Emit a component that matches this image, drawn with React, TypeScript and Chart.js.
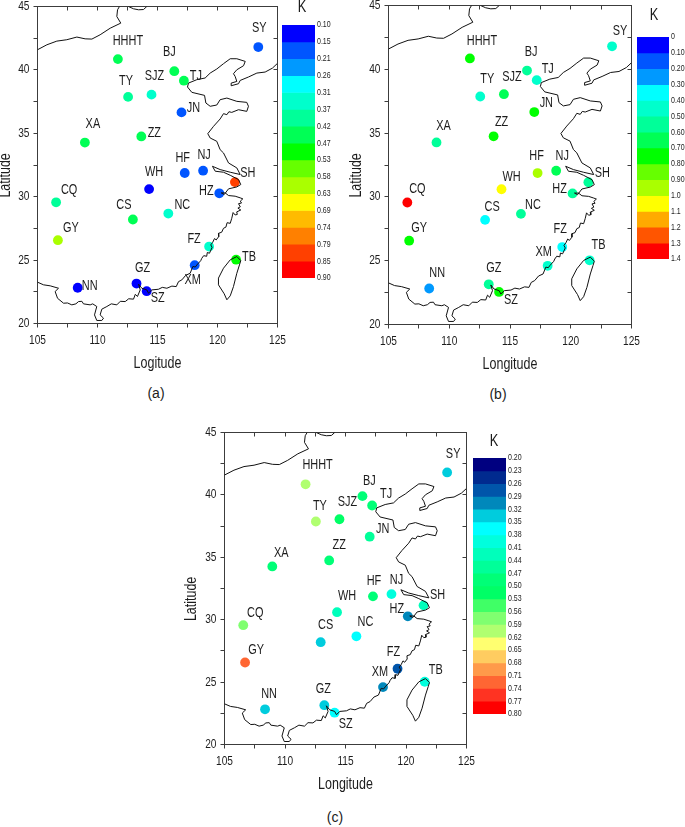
import React, { useEffect, useRef } from "react";
import { Chart, registerables } from "chart.js";

Chart.register(...registerables);

const FONT = '"Liberation Sans", Arial, sans-serif';
const INK = "#1c1c1c";
const AXIS = "#3c3c3c";
const SQUEEZE = 0.78;

const cityNames = ["SY","HHHT","BJ","TJ","SJZ","TY","JN","ZZ","XA","HF","NJ","WH","SH","HZ","CQ","CS","NC","GY","FZ","TB","XM","GZ","SZ","NN"];
const cityLon = [123.4,111.7,116.4,117.2,114.5,112.55,117,113.65,108.95,117.27,118.8,114.3,121.45,120.15,106.55,112.95,115.9,106.7,119.3,121.55,118.1,113.25,114.1,108.35];
const cityLat = [41.8,40.85,39.9,39.15,38.05,37.87,36.65,34.75,34.27,31.87,32.05,30.6,31.15,30.27,29.56,28.2,28.67,26.57,26.07,25.03,24.6,23.15,22.55,22.82];

const kA = [0.17,0.45,0.45,0.45,0.33,0.38,0.17,0.45,0.45,0.17,0.17,0.12,0.8,0.17,0.38,0.45,0.33,0.6,0.33,0.5,0.17,0.12,0.12,0.12];
const kB = [0.45,0.75,0.55,0.45,0.65,0.45,0.75,0.75,0.55,0.95,0.65,1.05,0.55,0.55,1.35,0.35,0.55,0.75,0.35,0.45,0.45,0.55,0.75,0.25];
const kC = [0.33,0.6,0.48,0.48,0.51,0.6,0.45,0.48,0.48,0.48,0.39,0.42,0.42,0.31,0.57,0.33,0.36,0.72,0.27,0.39,0.3,0.33,0.36,0.33];

const levelsA = [0.10,0.15,0.21,0.26,0.31,0.37,0.42,0.47,0.53,0.58,0.63,0.69,0.74,0.79,0.85,0.90];
const labelsA = levelsA.map((v) => v.toFixed(2));
const bandsA = ["#0000ff","#0055ff","#0099ff","#00ffff","#00ffcc","#00ff99","#00ff55","#00ff00","#66ff00","#aaff00","#ffff00","#ffbb00","#ff8000","#ff4000","#ff0000"];

const levelsB = [0,0.1,0.2,0.3,0.4,0.5,0.6,0.7,0.8,0.9,1.0,1.1,1.2,1.3,1.4];
const labelsB = ["0","0.10","0.20","0.30","0.40","0.50","0.60","0.70","0.80","0.90","1.0","1.1","1.2","1.3","1.4"];
const bandsB = ["#0000ff","#0055ff","#0099ff","#00ffff","#00ffcc","#00ff99","#00ff55","#00ff00","#66ff00","#aaff00","#ffff00","#ffaa00","#ff5500","#ff0000"];

const levelsC = [0.20,0.23,0.26,0.29,0.32,0.35,0.38,0.41,0.44,0.47,0.50,0.53,0.56,0.59,0.62,0.65,0.68,0.71,0.74,0.77,0.80];
const labelsC = levelsC.map((v) => v.toFixed(2));
const bandsC = ["#000080","#002a8f","#0055aa","#0088bb","#00ccdd","#00ffff","#00ffdd","#00ffbb","#00ff99","#00ff77","#00ff66","#40ff66","#80ff70","#b0ff70","#ffff70","#ffcc60","#ff9a4a","#ff6633","#ff3322","#ff0000"];

const northBorder = [[105,41.59],[105.78,41.98],[106.61,42.27],[107.44,42.38],[108.28,42.59],[108.97,42.45],[109.53,42.43],[110.22,42.77],[111.06,43.29],[111.94,43.69],[111.61,44.21],[111.67,44.74],[111.83,45]];
const northBorderTop = [[112.58,45],[113,44.82],[113.42,44.74],[113.83,44.76],[114.11,45]];
const mainlandCoast = [[124.97,40.49],[124.58,40.14],[123.97,39.83],[123.28,39.75],[122.58,39.44],[121.89,39.17],[121.75,38.91],[121.14,38.75],[121.14,38.96],[121.61,39.09],[121.47,39.49],[121.33,39.7],[121.61,40.01],[122.17,40.33],[122.31,40.67],[121.61,40.88],[121.06,40.88],[120.5,40.49],[119.94,40.07],[119.39,39.75],[118.97,39.36],[118.28,39.23],[117.58,38.96],[117.5,38.65],[117.86,38.23],[118.92,37.99],[119.03,37.39],[119.39,37.13],[119.94,37.23],[120.22,37.65],[120.78,37.78],[121.61,37.52],[122.44,37.44],[122.58,37.13],[122.44,36.73],[121.75,36.86],[121.19,36.65],[120.95,36.7],[120.78,36.47],[120.5,36.55],[120.22,36.13],[119.67,35.55],[119.19,34.97],[119.39,34.63],[119.94,34.37],[120.22,33.71],[120.5,33.45],[120.92,32.66],[121.61,32.27],[121.89,31.75],[121.06,31.93],[120.22,32.14],[119.58,32.4],[119.81,32.01],[120.5,31.93],[121.06,31.69],[121.75,31.35],[121.94,30.96],[121.61,30.77],[120.92,30.62],[120.56,30.17],[120.31,30.3],[120.64,30.3],[120.92,30.09],[121.47,30.04],[121.89,29.91],[122.11,29.83],[121.9,29.65],[122,29.5],[121.75,29.45],[121.9,29.2],[121.7,29.1],[121.94,28.95],[121.6,28.8],[121.65,28.6],[121.47,28.56],[121.3,28.75],[121.19,28.3],[121.06,27.9],[120.8,27.95],[120.7,27.6],[120.5,27.51],[120.35,27.2],[120.08,27.11],[120.1,26.85],[119.89,26.59],[119.75,26.7],[119.6,26.4],[119.44,26.2],[119.55,26],[119.33,25.54],[119.15,25.6],[119.1,25.3],[118.85,25.35],[118.69,25.14],[118.6,24.95],[118.28,24.62],[118.15,24.45],[117.95,24.5],[117.72,23.96],[117.35,23.8],[117.03,23.44],[116.75,23.3],[116.56,22.91],[116.2,22.95],[115.78,22.78],[115.4,22.85],[115.08,22.7],[114.53,22.65],[114.25,22.39],[114.11,22.65],[113.69,22.78],[113.42,23.1],[113.56,22.65],[113.33,22.13],[113.15,22.3],[113,21.92],[112.6,21.95],[112.31,21.73],[111.9,21.75],[111.61,21.47],[111.15,21.55],[110.78,21.34],[110.36,21.13],[110.22,20.68],[110.5,20.42],[110.36,20.24],[109.94,20.24],[109.75,20.68],[109.94,21.34],[109.6,21.55],[109.39,21.47],[108.83,21.55],[108.7,21.75],[108.42,21.73],[108.2,21.55],[107.86,21.47],[107.5,21.62],[107.17,21.6],[106.67,21.99],[106.47,22.52],[106.75,22.78],[106.06,22.97],[105.5,23.05],[105,23.26]];
const taiwanCoast = [[121.61,25.28],[121.94,24.96],[121.83,24.62],[121.61,23.96],[121.33,22.91],[121.06,22.18],[120.78,21.87],[120.56,22.34],[120.08,23.05],[120.08,23.58],[120.5,24.36],[121.06,25.02],[121.61,25.28]];

const labelOffsetsA = [[1,-19],[10,-18],[-5,-19],[12,-5],[3,-18],[-2,-16],[12,-4],[13,-3],[8,-18],[-2,-15],[1,-16],[5,-17],[13,-9],[-13,-2],[13,-12],[-9,-14],[14,-8],[13,-12],[-15,-7],[13,-3],[-2,15],[6,-15],[11,7],[12,-2]];
const labelOffsetsB = [[8,-15],[12,-17],[4,-18],[11,-11],[8,-17],[7,-17],[12,-9],[8,-14],[7,-16],[-1,-17],[6,-15],[10,-12],[14,-9],[-13,-4],[10,-13],[7,-13],[12,-9],[10,-13],[-2,-18],[9,-15],[-4,-14],[5,-16],[12,8],[8,-15]];
const labelOffsetsC = [[6,-18],[12,-19],[7,-15],[14,-11],[8,-17],[4,-15],[13,-8],[10,-15],[9,-13],[1,-15],[5,-14],[10,-16],[14,-10],[-11,-7],[12,-12],[5,-17],[9,-14],[11,-12],[-4,-17],[11,-12],[-3,-15],[-1,-16],[11,11],[4,-15]];

const toPoints = (pairs: number[][]) => pairs.map(([x, y]) => ({ x, y }));

function bandColor(k: number, levels: number[], bands: string[]) {
  for (let i = 0; i < bands.length; i++) if (k < levels[i + 1]) return bands[i];
  return bands[bands.length - 1];
}

function outline(pairs: number[][]) {
  return {
    type: "scatter",
    data: toPoints(pairs),
    showLine: true,
    borderColor: "#111111",
    borderWidth: 1,
    pointRadius: 0,
    fill: false,
    tension: 0,
    order: 1,
  };
}

// The reference's lettering is horizontally condensed: every canvas text is drawn narrower.
function condense(canvas: HTMLCanvasElement) {
  const ctx: any = canvas.getContext("2d");
  if (ctx.__condensed) return;
  ctx.__condensed = true;
  const orig = ctx.fillText.bind(ctx);
  ctx.fillText = (t: string, x: number, y: number) => orig(t, x, y, Math.max(1, ctx.measureText(t).width * SQUEEZE));
}

type Panel = {
  mapLeft: number; mapTop: number; plotLeft: number; plotRight: number; plotTop: number; plotBottom: number; mapBottom: number;
  xTitle: string; k: number[]; levels: number[]; tickLabels: string[]; bands: string[]; offsets: number[][];
  barLeft: number; barRight: number; barTop: number; barBottom: number; kX: number; kY: number;
  caption: string; capX: number; capY: number;
};

const panels: Panel[] = [
  { mapLeft: -2, mapTop: 0, plotLeft: 37.5, plotRight: 277.5, plotTop: 6.5, plotBottom: 323.5, mapBottom: 372, xTitle: "Logitude", k: kA, levels: levelsA, tickLabels: labelsA, bands: bandsA, offsets: labelOffsetsA, barLeft: 282, barRight: 315, barTop: 25, barBottom: 278, kX: 302, kY: 7, caption: "(a)", capX: 156, capY: 393 },
  { mapLeft: 349, mapTop: 0, plotLeft: 388.5, plotRight: 631.5, plotTop: 5.5, plotBottom: 324.5, mapBottom: 373, xTitle: "Longitude", k: kB, levels: levelsB, tickLabels: labelsB, bands: bandsB, offsets: labelOffsetsB, barLeft: 637, barRight: 669, barTop: 37, barBottom: 259, kX: 654, kY: 15, caption: "(b)", capX: 498, capY: 394 },
  { mapLeft: 184, mapTop: 420, plotLeft: 224.5, plotRight: 466.5, plotTop: 432.5, plotBottom: 744.5, mapBottom: 793, xTitle: "Longitude", k: kC, levels: levelsC, tickLabels: labelsC, bands: bandsC, offsets: labelOffsetsC, barLeft: 473, barRight: 506, barTop: 458, barBottom: 714, kX: 494, kY: 441, caption: "(c)", capX: 335, capY: 817 },
];

function MapChart({ p }: { p: Panel }) {
  const ref = useRef<HTMLCanvasElement>(null);
  const rightW = 14.5;
  const W = p.plotRight - p.mapLeft + rightW;
  const H = p.mapBottom - p.mapTop;
  useEffect(() => {
    condense(ref.current!);
    const fixH = (size: number) => (scale: any) => { scale.height = size; scale.paddingLeft = 0; scale.paddingRight = 0; };
    const fixW = (size: number) => (scale: any) => { scale.width = size; scale.paddingTop = 0; scale.paddingBottom = 0; };
    const leftW = p.plotLeft - p.mapLeft;
    const topH = p.plotTop - p.mapTop;
    const botH = p.mapBottom - p.plotBottom;
    const majorOnly = (v: any) => (Number(v) % 5 === 0 ? String(v) : "");
    const tickFont = { family: FONT, size: 13 };
    const cityLabels = {
      id: "cityLabels",
      afterDatasetsDraw(chart: any) {
        const { ctx, scales } = chart;
        ctx.save();
        ctx.font = `14px ${FONT}`;
        ctx.fillStyle = INK;
        ctx.textAlign = "center";
        ctx.textBaseline = "middle";
        cityNames.forEach((n, i) => {
          ctx.fillText(n, scales.x.getPixelForValue(cityLon[i]) + p.offsets[i][0], scales.y.getPixelForValue(cityLat[i]) + p.offsets[i][1]);
        });
        ctx.restore();
      },
    };
    const chart = new Chart(ref.current!, {
      type: "scatter",
      data: {
        datasets: [
          {
            label: "K",
            data: cityLon.map((x, i) => ({ x, y: cityLat[i] })),
            pointRadius: 4.9,
            pointBorderWidth: 0,
            pointBackgroundColor: p.k.map((k) => bandColor(k, p.levels, p.bands)),
            order: 2,
          },
          outline(northBorder),
          outline(northBorderTop),
          outline(mainlandCoast),
          outline(taiwanCoast),
        ] as any,
      },
      options: {
        animation: false,
        responsive: false,
        devicePixelRatio: 1,
        layout: { padding: 0 },
        plugins: { legend: { display: false }, tooltip: { enabled: false } },
        scales: {
          x: {
            type: "linear", position: "bottom", min: 105, max: 125, afterFit: fixH(botH),
            grid: { drawOnChartArea: false, tickLength: 4, tickColor: AXIS },
            border: { color: AXIS, width: 1 },
            ticks: { stepSize: 2.5, autoSkip: false, maxRotation: 0, padding: 5, color: INK, font: tickFont, callback: majorOnly },
            title: { display: true, text: p.xTitle, color: INK, font: { family: FONT, size: 16, lineHeight: 1 }, padding: 0 },
          },
          y: {
            type: "linear", position: "left", min: 20, max: 45, afterFit: fixW(leftW),
            grid: { drawOnChartArea: false, tickLength: 4, tickColor: AXIS },
            border: { color: AXIS, width: 1 },
            ticks: { stepSize: 2.5, autoSkip: false, padding: 4, color: INK, font: tickFont, callback: majorOnly },
            title: { display: true, text: "Latitude      ", color: INK, font: { family: FONT, size: 16, lineHeight: 1 }, padding: 0 },
          },
          xTop: {
            type: "linear", position: "top", min: 105, max: 125, afterFit: fixH(topH),
            grid: { drawOnChartArea: false, tickLength: -4, tickColor: AXIS },
            border: { color: AXIS, width: 1 },
            ticks: { stepSize: 2.5, display: false },
          },
          yRight: {
            type: "linear", position: "right", min: 20, max: 45, afterFit: fixW(rightW),
            grid: { drawOnChartArea: false, tickLength: -4, tickColor: AXIS },
            border: { color: AXIS, width: 1 },
            ticks: { stepSize: 2.5, display: false },
          },
        },
      } as any,
      plugins: [cityLabels],
    });
    return () => chart.destroy();
  }, [p]);
  return <canvas ref={ref} width={W} height={H} style={{ position: "absolute", left: p.mapLeft, top: p.mapTop, width: W, height: H }} />;
}

function ColorBar({ p }: { p: Panel }) {
  const ref = useRef<HTMLCanvasElement>(null);
  const PAD = 6;
  const RIGHT = 18;
  const W = p.barRight - p.barLeft + RIGHT;
  const H = p.barBottom - p.barTop + 2 * PAD;
  useEffect(() => {
    condense(ref.current!);
    const chart = new Chart(ref.current!, {
      type: "bar",
      data: {
        labels: ["K"],
        datasets: p.bands.map((c, i) => ({ label: p.tickLabels[i], data: [1], backgroundColor: c, borderWidth: 0, stack: "k", barPercentage: 1, categoryPercentage: 1 })),
      },
      options: {
        animation: false,
        responsive: false,
        devicePixelRatio: 1,
        layout: { padding: { top: PAD, bottom: PAD } },
        plugins: { legend: { display: false }, tooltip: { enabled: false } },
        scales: {
          x: { stacked: true, display: false },
          y: {
            stacked: true, position: "right", min: 0, max: p.bands.length, reverse: true,
            afterFit: (s: any) => { s.width = RIGHT; s.paddingTop = 0; s.paddingBottom = 0; },
            grid: { display: false, drawTicks: false },
            border: { display: false },
            ticks: { stepSize: 1, autoSkip: false, padding: 2, color: INK, font: { family: FONT, size: 9 }, callback: (v: any) => p.tickLabels[Number(v)] ?? "" },
          },
        },
      } as any,
    });
    return () => chart.destroy();
  }, [p]);
  return <canvas ref={ref} width={W} height={H} style={{ position: "absolute", left: p.barLeft, top: p.barTop - PAD, width: W, height: H }} />;
}

function Label({ text, x, y, size, sx }: { text: string; x: number; y: number; size: number; sx: number }) {
  return (
    <span style={{ position: "absolute", left: x, top: y, transform: `translate(-50%,-50%) scaleX(${sx})`, font: `${size}px ${FONT}`, color: INK, whiteSpace: "nowrap" }}>{text}</span>
  );
}

export default function App() {
  return (
    <div style={{ position: "absolute", left: 0, top: 0, width: 685, height: 827, overflow: "hidden", background: "#fff" }}>
      {panels.map((p) => (
        <React.Fragment key={p.caption}>
          <MapChart p={p} />
          <ColorBar p={p} />
          <Label text="K" x={p.kX} y={p.kY} size={16} sx={0.8} />
          <Label text={p.caption} x={p.capX} y={p.capY} size={14} sx={1} />
        </React.Fragment>
      ))}
    </div>
  );
}
